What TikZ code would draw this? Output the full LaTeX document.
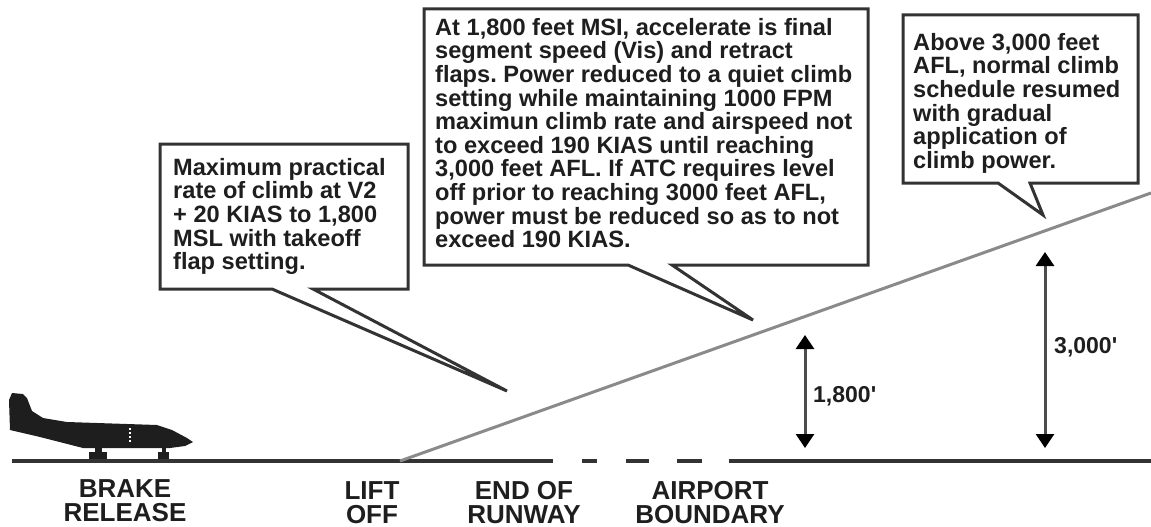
\documentclass[tikz,border=0pt]{standalone}
\usepackage{fontspec}
\setmainfont{Liberation Sans}
\usetikzlibrary{arrows.meta}
\definecolor{ink}{HTML}{1E1E1E}
\definecolor{edge}{HTML}{333333}
\definecolor{climb}{HTML}{8A8A8A}
\frenchspacing
\tikzset{
  callout/.style={draw=edge, line width=3pt, fill=white, line join=miter},
  boxtext/.style={inner sep=0pt, anchor=north west, align=left, text=ink,
    font=\bfseries\fontsize{23.6}{23.6}\selectfont},
  place/.style={inner sep=0pt, anchor=north, align=center, text=ink,
    font=\bfseries\fontsize{26}{24.5}\selectfont},
  dimtext/.style={inner sep=0pt, anchor=base west, text=ink,
    font=\bfseries\fontsize{23}{23}\selectfont},
  ground/.style={draw=edge, line width=4.5pt},
  dimarrow/.style={draw=black!70, line width=3pt,
    {Triangle[width=18pt,length=14pt,black]}-{Triangle[width=18pt,length=14pt,black]}},
}
\begin{document}
\begin{tikzpicture}[x=1pt,y=-1pt]
\useasboundingbox (0,0) rectangle (1151,527);
% ground
\coordinate (g0) at (12,461);
\coordinate (g1) at (553,461);
\coordinate (d1a) at (582,461); \coordinate (d1b) at (597,461);
\coordinate (d2a) at (626,461); \coordinate (d2b) at (649,461);
\coordinate (d3a) at (677,461); \coordinate (d3b) at (702,461);
\coordinate (g2) at (729,461);
\coordinate (g3) at (1151,461);
\draw[ground] (g0) -- (g1);
\draw[ground] (d1a) -- (d1b);
\draw[ground] (d2a) -- (d2b);
\draw[ground] (d3a) -- (d3b);
\draw[ground] (g2) -- (g3);
% climb path
\coordinate (lift) at (400,461);
\coordinate (climbend) at (1151,193);
\draw[climb, line width=3pt] (lift) -- (climbend);
% airplane
\fill[ink] (12,393) -- (23,394) -- (27,398) -- (32,411) -- (43,418) -- (67,422)
  -- (157,425) -- (172,430) -- (187,438) -- (193,442) -- (185,446) -- (170,448)
  -- (83,448) -- (40,437) -- (10,430) -- (9,400) -- cycle;
\fill[ink] (95,446) rectangle (102,453);
\fill[ink] (89,452) rectangle (107,459);
\fill[ink] (162,446) rectangle (166,453);
\fill[ink] (158,452) rectangle (169,459);
\draw[white, line width=1.4pt, dash pattern=on 2pt off 2pt] (130,428) -- (130,442);
% dimension arrows
\coordinate (a1t) at (805,335); \coordinate (a1b) at (805,448);
\coordinate (a2t) at (1045,252); \coordinate (a2b) at (1045,448);
\draw[dimarrow] (a1t) -- (a1b);
\draw[dimarrow] (a2t) -- (a2b);
\node[dimtext] (h1) at (813,402) {1,800\textquotesingle};
\node[dimtext] (h2) at (1054,353) {3,000\textquotesingle};
% callout 1
\draw[callout] (160,144) -- (408,144) -- (408,289) -- (313,289) -- (507,391)
  -- (272,289) -- (160,289) -- cycle;
\node[boxtext] (t1) at (173,158) {Maximum practical\\rate of climb at V2\\+ 20 KIAS to 1,800\\MSL with takeoff\\flap setting.};
% callout 2
\draw[callout] (424,9) -- (868,9) -- (868,265) -- (672,265) -- (753,320)
  -- (628,265) -- (424,265) -- cycle;
\node[boxtext] (t2) at (435,18) {At 1,800 feet MSI, accelerate is final\\segment speed (Vis) and retract\\flaps. Power reduced to a quiet climb\\setting while maintaining 1000 FPM\\maximun climb rate and airspeed not\\to exceed 190 KIAS until reaching\\3,000 feet AFL. If ATC requires level\\off prior to reaching 3000 feet AFL,\\power must be reduced so as to not\\exceed 190 KIAS.};
% callout 3
\draw[callout] (903,15) -- (1138,15) -- (1138,183) -- (1030,183) -- (1043,215)
  -- (998,183) -- (903,183) -- cycle;
\node[boxtext] (t3) at (913,33) {Above 3,000 feet\\AFL, normal climb\\schedule resumed\\with gradual\\application of\\climb power.};
% bottom labels
\node[place] (brake) at (125,479) {BRAKE\\RELEASE};
\node[place] (liftoff) at (372,481) {LIFT\\OFF};
\node[place] (eor) at (524,481) {END OF\\RUNWAY};
\node[place] (ab) at (710,481) {AIRPORT\\BOUNDARY};
\end{tikzpicture}
\end{document}
